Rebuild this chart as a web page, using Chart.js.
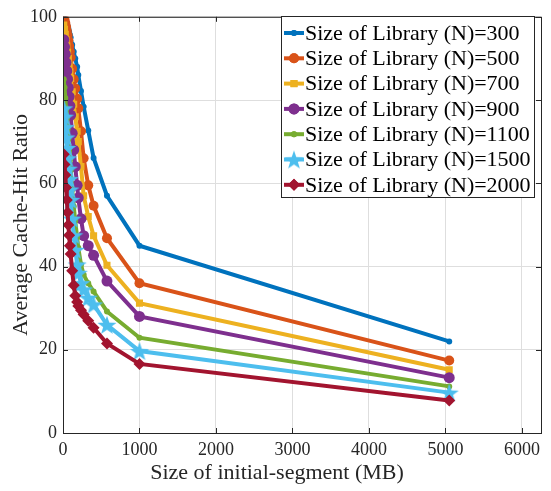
<!DOCTYPE html>
<html>
<head>
<meta charset="utf-8">
<script src="https://cdn.jsdelivr.net/npm/chart.js@4.4.0/dist/chart.umd.min.js"></script>
<style>
  html, body { margin: 0; padding: 0; background: #fff; }
  #wrap { width: 551px; height: 491px; }
</style>
</head>
<body>
<div id="wrap"><canvas id="chart" width="551" height="491"></canvas></div>
<script>
// shared x values (MB)
const segmentSizes = [10, 20, 30, 40, 50, 60, 70, 80, 90, 100, 120, 140, 160, 185, 200, 235, 270, 330, 400, 575, 1000, 5050];

const seriesLabels = [
    'Size of Library (N)=300', 'Size of Library (N)=500', 'Size of Library (N)=700',
    'Size of Library (N)=900', 'Size of Library (N)=1100', 'Size of Library (N)=1500',
    'Size of Library (N)=2000'
];

const hitN300  = [100, 99.8, 99.4, 99, 98.4, 97.8, 97.1, 96.4, 95.7, 95, 93.3, 91.6, 90, 88, 86, 82.2, 78.4, 72.7, 66.1, 57, 45, 22];
const hitN500  = [100, 99.3, 98.5, 97.6, 96.6, 95.5, 94.3, 93, 91.6, 90.2, 87.5, 85, 82.8, 80.3, 78, 72.5, 66, 59.5, 54.6, 46.8, 36, 17.4];
const hitN700  = [98, 97, 95.8, 94.5, 93, 91.5, 90, 88.4, 86.8, 85.2, 82, 79, 76, 72.5, 70, 64, 57, 52, 47.4, 40.3, 31.2, 15.2];
const hitN900  = [94.5, 92.8, 91, 89, 87, 85, 83, 80.8, 78.6, 76.4, 72, 68, 64, 59.5, 56.5, 51.5, 47.4, 45, 42.7, 36.5, 28, 13.3];
const hitN1100 = [85, 83, 80.5, 78, 75.5, 73, 70.5, 68, 65.5, 63, 58.5, 54.5, 51, 47, 44.5, 40.5, 38, 36, 34, 29.2, 22.9, 11.2];
const hitN1500 = [78, 76, 73.5, 71, 68.5, 66, 63.5, 61, 58.5, 56, 51.5, 47.5, 44, 40.5, 38.5, 36, 34.5, 32.5, 30.9, 26, 19.7, 9.7];
const hitN2000 = [67, 64.5, 62, 59, 56, 53, 50, 47.5, 45, 43, 39, 35.5, 33, 31.5, 30.5, 29.5, 28.5, 27, 25.3, 21.5, 16.6, 7.8];

const xTicks = [0, 1000, 2000, 3000, 4000, 5000, 6000];
const yTicks = [0, 20, 40, 60, 80, 100];

const FONT = "'Liberation Serif', 'Times New Roman', serif";
const AXIS = '#262626';

function starImage(color, size) {
    const c = document.createElement('canvas');
    c.width = size; c.height = size;
    const g = c.getContext('2d');
    const cx = size / 2, cy = size / 2 + size * 0.05, R = size / 2, r = R * 0.4;
    g.beginPath();
    for (let i = 0; i < 10; i++) {
        const rad = i % 2 === 0 ? R : r;
        const a = -Math.PI / 2 + i * Math.PI / 5;
        g.lineTo(cx + rad * Math.cos(a), cy + rad * Math.sin(a));
    }
    g.closePath();
    g.fillStyle = color;
    g.fill();
    return c;
}

const styles = [
    { color: '#0072BD', point: 'circle', r: 3 },
    { color: '#D95319', point: 'circle', r: 5 },
    { color: '#EDB120', point: 'rect', r: 5 },
    { color: '#7E2F8E', point: 'circle', r: 5.5 },
    { color: '#77AC30', point: 'circle', r: 3 },
    { color: '#4DBEEE', point: starImage('#4DBEEE', 20), r: 9 },
    { color: '#A2142F', point: 'rectRot', r: 6 }
];

const allSeries = [hitN300, hitN500, hitN700, hitN900, hitN1100, hitN1500, hitN2000];

const datasets = allSeries.map((vals, i) => ({
    label: seriesLabels[i],
    data: vals.map((v, k) => ({ x: segmentSizes[k], y: v })),
    borderColor: styles[i].color,
    backgroundColor: styles[i].color,
    borderWidth: 4,
    pointStyle: styles[i].point,
    pointRadius: styles[i].r,
    pointBorderWidth: 0,
    pointBackgroundColor: styles[i].color,
    tension: 0,
    order: allSeries.length - i
}));

// frame, inner ticks, x label and legend like the original figure
const framePlugin = {
    id: 'frame',
    afterDatasetsDraw(chart) {
        const ctx = chart.ctx;
        const a = chart.chartArea;
        const xs = chart.scales.x, ys = chart.scales.y;
        ctx.save();
        ctx.strokeStyle = AXIS;
        ctx.lineWidth = 1;
        ctx.strokeRect(a.left + 0.5, a.top + 0.5, a.right - a.left, a.bottom - a.top);
        ctx.beginPath();
        xTicks.forEach(t => {
            const px = Math.round(xs.getPixelForValue(t)) + 0.5;
            ctx.moveTo(px, a.bottom); ctx.lineTo(px, a.bottom - 5);
            ctx.moveTo(px, a.top); ctx.lineTo(px, a.top + 5);
        });
        yTicks.forEach(t => {
            const py = Math.round(ys.getPixelForValue(t)) + 0.5;
            ctx.moveTo(a.left, py); ctx.lineTo(a.left + 5, py);
            ctx.moveTo(a.right, py); ctx.lineTo(a.right - 5, py);
        });
        ctx.stroke();

        // x axis label
        ctx.fillStyle = AXIS;
        ctx.font = '22px ' + FONT;
        ctx.textAlign = 'center';
        ctx.textBaseline = 'middle';
        ctx.fillText('Size of initial-segment (MB)', 277, 473);

        // legend box
        const bx = 281, by = 16, bw = 253, bh = 181, rowH = 25.3;
        ctx.fillStyle = '#fff';
        ctx.fillRect(bx, by, bw, bh);
        ctx.strokeStyle = AXIS;
        ctx.strokeRect(bx + 0.5, by + 0.5, bw, bh);
        ctx.font = '22px ' + FONT;
        ctx.textAlign = 'left';
        chart.data.datasets.forEach((ds, i) => {
            const cy = by + 17 + i * rowH;
            ctx.strokeStyle = ds.borderColor;
            ctx.lineWidth = 4;
            ctx.beginPath();
            ctx.moveTo(bx + 3, cy); ctx.lineTo(bx + 23, cy);
            ctx.stroke();
            ctx.fillStyle = ds.borderColor;
            Chart.helpers.drawPoint(ctx, {
                pointStyle: ds.pointStyle, radius: ds.pointRadius, borderWidth: 0, rotation: 0
            }, bx + 13, cy);
            ctx.fill();
            ctx.fillStyle = '#000';
            ctx.fillText(ds.label, bx + 24, cy + 1);
        });
        ctx.restore();
    }
};

new Chart(document.getElementById('chart'), {
    type: 'line',
    data: { datasets },
    options: {
        responsive: false,
        animation: false,
        layout: { padding: { top: 12, right: 10, left: 0, bottom: 0 } },
        plugins: { legend: { display: false }, tooltip: { enabled: false } },
        scales: {
            x: {
                type: 'linear',
                min: 0, max: 6250,
                afterBuildTicks: s => { s.ticks = xTicks.map(v => ({ value: v })); },
                afterFit: s => { s.height = 58; },
                grid: { color: '#dedede', drawTicks: false },
                border: { display: false },
                ticks: { color: AXIS, font: { family: FONT, size: 18 }, padding: 6, maxRotation: 0,
                         callback: v => String(v) },
                title: { display: false }
            },
            y: {
                min: 0, max: 100,
                afterBuildTicks: s => { s.ticks = yTicks.map(v => ({ value: v })); },
                afterFit: s => { s.width = 63; },
                grid: { color: '#dedede', drawTicks: false },
                border: { display: false },
                ticks: { color: AXIS, font: { family: FONT, size: 18 }, padding: 6 },
                title: { display: true, text: 'Average Cache-Hit Ratio', color: AXIS,
                         font: { family: FONT, size: 22 }, padding: { top: 8, bottom: 0 } }
            }
        }
    },
    plugins: [framePlugin]
});
</script>
</body>
</html>
